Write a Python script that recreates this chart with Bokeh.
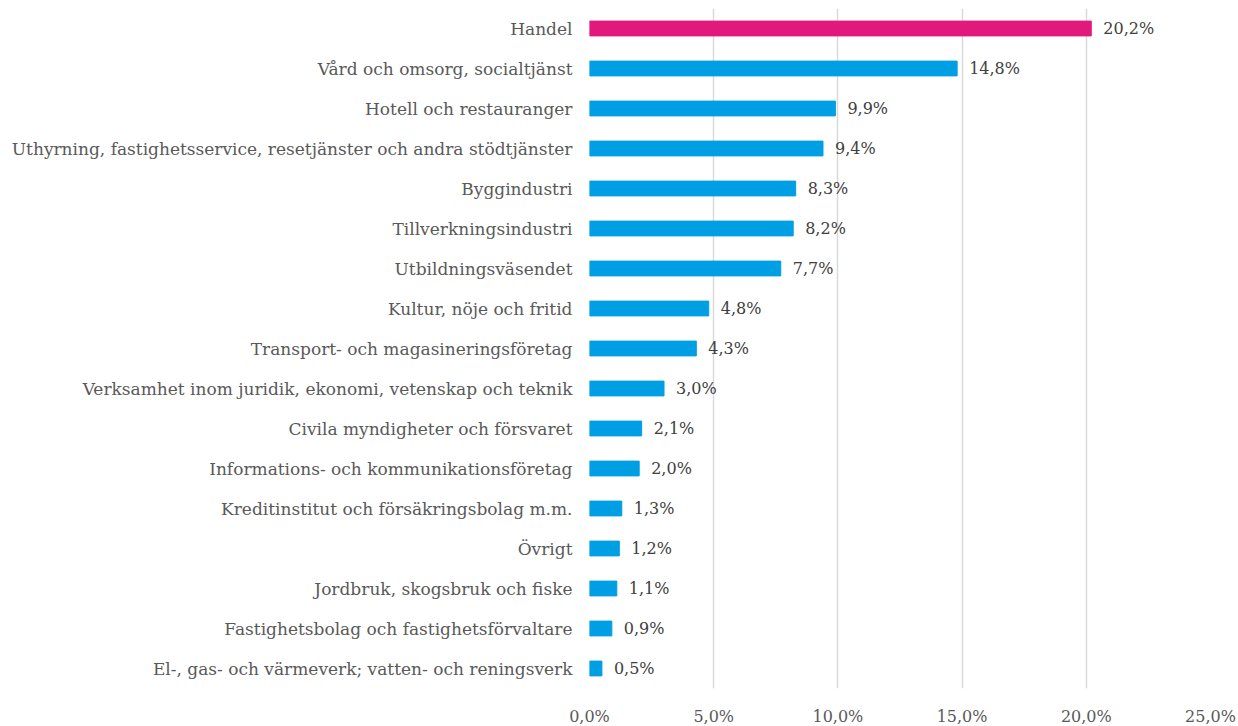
from bokeh.plotting import figure
from bokeh.models import ColumnDataSource, CustomJSTickFormatter, FixedTicker, Range1d
from bokeh.core.properties import value
from bokeh.embed import file_html
from bokeh.resources import INLINE

categories = [
    "Handel",
    "Vård och omsorg, socialtjänst",
    "Hotell och restauranger",
    "Uthyrning, fastighetsservice, resetjänster och andra stödtjänster",
    "Byggindustri",
    "Tillverkningsindustri",
    "Utbildningsväsendet",
    "Kultur, nöje och fritid",
    "Transport- och magasineringsföretag",
    "Verksamhet inom juridik, ekonomi, vetenskap och teknik",
    "Civila myndigheter och försvaret",
    "Informations- och kommunikationsföretag",
    "Kreditinstitut och försäkringsbolag m.m.",
    "Övrigt",
    "Jordbruk, skogsbruk och fiske",
    "Fastighetsbolag och fastighetsförvaltare",
    "El-, gas- och värmeverk; vatten- och reningsverk",
]
values = [20.2, 14.8, 9.9, 9.4, 8.3, 8.2, 7.7, 4.8, 4.3, 3.0, 2.1, 2.0, 1.3, 1.2, 1.1, 0.9, 0.5]
x_ticks = [0, 5, 10, 15, 20, 25]

PINK = "#E2197D"
BLUE = "#009FE3"
FONT = "DejaVu Serif"

colors = [PINK if i == 0 else BLUE for i in range(len(categories))]
labels = [f"{v:.1f}".replace(".", ",") + "%" for v in values]

src = ColumnDataSource(dict(cat=categories, val=values, color=colors, label=labels))

p = figure(
    y_range=list(reversed(categories)),
    x_range=Range1d(0, 25),
    frame_width=621, frame_height=680,
    output_backend="svg", toolbar_location=None,
    min_border_left=589, min_border_right=28, min_border_top=8, min_border_bottom=30,
)
p.outline_line_color = None
p.background_fill_color = "white"
p.border_fill_color = "white"

p.hbar(y="cat", right="val", left=0, height=0.37, color="color", source=src)
p.text(x="val", y="cat", text="label", source=src, x_offset=12,
       text_baseline="middle", text_align="left",
       text_font=value(FONT), text_font_size="16px", text_color="#404040")

p.xaxis.ticker = FixedTicker(ticks=x_ticks)
p.xaxis.formatter = CustomJSTickFormatter(code="return tick.toFixed(1).replace('.', ',') + '%';")
p.xaxis.axis_line_color = None
p.xaxis.major_tick_line_color = None
p.xaxis.minor_tick_line_color = None
p.xaxis.major_tick_out = 0
p.xaxis.major_tick_in = 0
p.xaxis.major_label_text_font = FONT
p.xaxis.major_label_text_font_size = "16px"
p.xaxis.major_label_text_color = "#595959"
p.xaxis.major_label_standoff = 18

p.yaxis.axis_line_color = None
p.yaxis.major_tick_line_color = None
p.yaxis.minor_tick_line_color = None
p.yaxis.major_tick_out = 0
p.yaxis.major_tick_in = 0
p.yaxis.major_label_text_font = FONT
p.yaxis.major_label_text_font_size = "17px"
p.yaxis.major_label_text_color = "#595959"
p.yaxis.major_label_standoff = 17

p.xgrid.grid_line_color = "#D9D9D9"
p.xgrid.grid_line_width = 1.5
p.ygrid.grid_line_color = None

open("out.html", "w").write(file_html(p, INLINE))
